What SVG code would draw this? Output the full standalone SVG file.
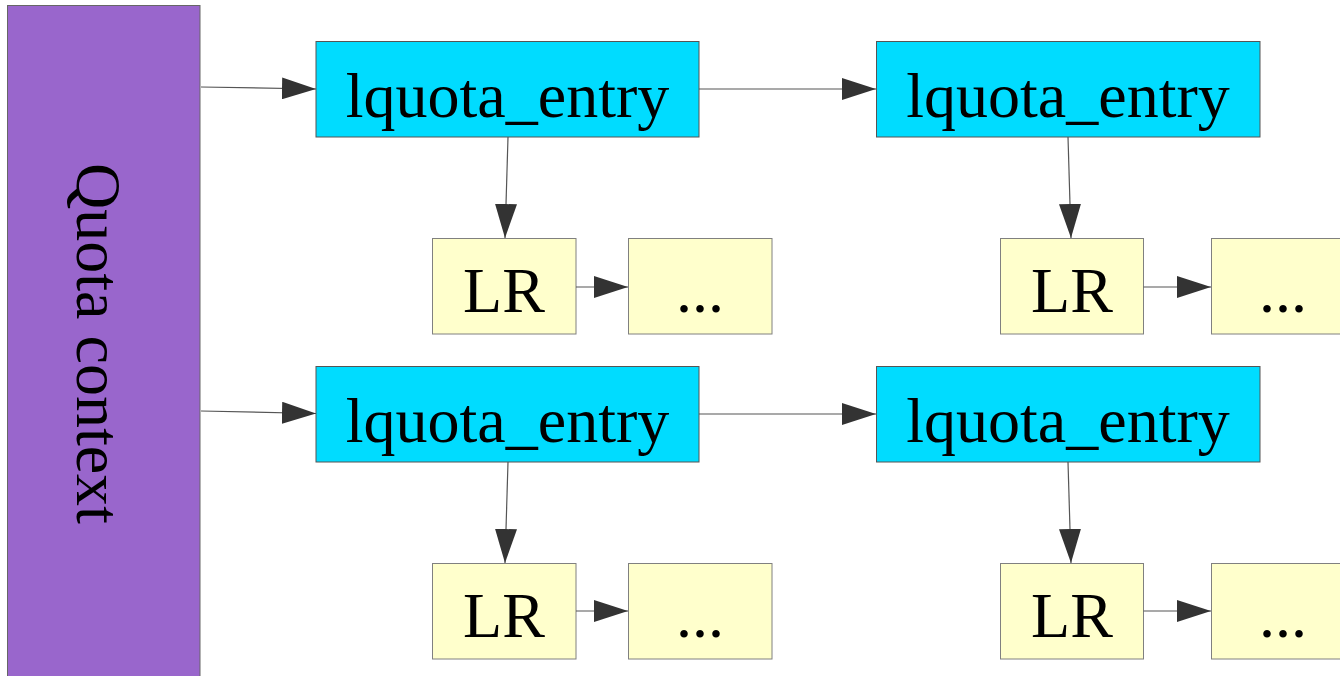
<svg xmlns="http://www.w3.org/2000/svg" width="1340" height="676" viewBox="0 0 1340 676">
<style>
.ctx{fill:#9966cc;stroke:#666666;stroke-width:1}
.ent{fill:#00dcff;stroke:#555555;stroke-width:1}
.lr{fill:#ffffcc;stroke:#808080;stroke-width:1}
.t{font-family:"Liberation Serif","Times New Roman",serif;font-size:64px;fill:#000;text-anchor:middle}
.c{stroke:#555555;stroke-width:1.2;fill:none;marker-end:url(#ah)}
</style>
<defs>
<marker id="ah" markerUnits="userSpaceOnUse" markerWidth="34" markerHeight="22" refX="34" refY="11" orient="auto" viewBox="0 0 34 22">
<path d="M0,0 L34,11 L0,22 Z" fill="#333333"/>
</marker>
</defs>
<rect width="1340" height="676" fill="#ffffff"/>
<g id="ctx">
<rect class="ctx" x="7.5" y="5.5" width="192.5" height="680"/>
<text class="t" transform="translate(77,343.5) rotate(90)">Quota context</text>
</g>
<g id="e11"><rect class="ent" x="316" y="41.5" width="383" height="95.5"/><text class="t" x="507.5" y="117">lquota_entry</text></g>
<g id="e12"><rect class="ent" x="876.5" y="41.5" width="383.5" height="95.5"/><text class="t" x="1068" y="117">lquota_entry</text></g>
<g id="e21"><rect class="ent" x="316" y="366.5" width="383" height="95.5"/><text class="t" x="507.5" y="442">lquota_entry</text></g>
<g id="e22"><rect class="ent" x="876.5" y="366.5" width="383.5" height="95.5"/><text class="t" x="1068" y="442">lquota_entry</text></g>
<g id="lr11"><rect class="lr" x="432.5" y="238.5" width="143.5" height="95.5"/><text class="t" x="504" y="312">LR</text></g>
<g id="d11"><rect class="lr" x="628.5" y="238.5" width="143.5" height="95.5"/><text class="t" x="700" y="312">...</text></g>
<g id="lr12"><rect class="lr" x="1000.5" y="238.5" width="143" height="95.5"/><text class="t" x="1072" y="312">LR</text></g>
<g id="d12"><rect class="lr" x="1211.5" y="238.5" width="143" height="95.5"/><text class="t" x="1283" y="312">...</text></g>
<g id="lr21"><rect class="lr" x="432.5" y="563.5" width="143.5" height="95.5"/><text class="t" x="504" y="637">LR</text></g>
<g id="d21"><rect class="lr" x="628.5" y="563.5" width="143.5" height="95.5"/><text class="t" x="700" y="637">...</text></g>
<g id="lr22"><rect class="lr" x="1000.5" y="563.5" width="143" height="95.5"/><text class="t" x="1072" y="637">LR</text></g>
<g id="d22"><rect class="lr" x="1211.5" y="563.5" width="143" height="95.5"/><text class="t" x="1283" y="637">...</text></g>
<g id="connectors">
<path class="c" d="M201,87 L316,89"/>
<path class="c" d="M201,411 L316,413.5"/>
<path class="c" d="M699,89 L876,89"/>
<path class="c" d="M699,414 L876,414"/>
<path class="c" d="M508,137 L505,238"/>
<path class="c" d="M1068,137 L1071,238"/>
<path class="c" d="M508,462 L505,563"/>
<path class="c" d="M1068,462 L1071,563"/>
<path class="c" d="M576,287 L628,287"/>
<path class="c" d="M1143.5,287 L1211,287"/>
<path class="c" d="M576,611 L628,611"/>
<path class="c" d="M1143.5,611 L1211,611"/>
</g>
</svg>
